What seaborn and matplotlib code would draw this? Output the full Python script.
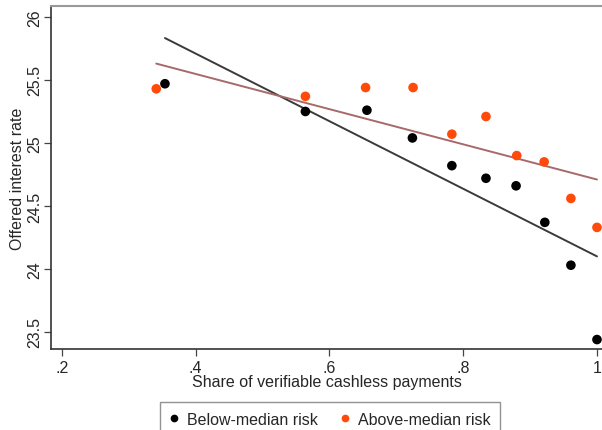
import numpy as np
import pandas as pd
import matplotlib
matplotlib.use("Agg")
import matplotlib.pyplot as plt
import seaborn as sns

# Binned means
below_x = [0.354, 0.564, 0.656, 0.724, 0.783, 0.834, 0.879, 0.922, 0.961, 1.0]
below_y = [25.47, 25.25, 25.26, 25.04, 24.82, 24.72, 24.66, 24.37, 24.03, 23.44]
above_x = [0.341, 0.564, 0.654, 0.725, 0.783, 0.834, 0.880, 0.921, 0.961, 1.0]
above_y = [25.43, 25.37, 25.44, 25.44, 25.07, 25.21, 24.90, 24.85, 24.56, 24.33]

# Linear fits (intercept, slope) as shown on the chart
below_fit = (26.782, -2.682)
above_fit = (26.106, -1.396)

groups = ["Below-median risk", "Above-median risk"]
x_ticks = [0.2, 0.4, 0.6, 0.8, 1.0]
x_tick_labels = [".2", ".4", ".6", ".8", "1"]
y_ticks = [23.5, 24, 24.5, 25, 25.5, 26]
y_tick_labels = ["23.5", "24", "24.5", "25", "25.5", "26"]

df = pd.DataFrame({
    "share": below_x + above_x,
    "rate": below_y + above_y,
    "group": [groups[0]] * len(below_x) + [groups[1]] * len(above_x),
})

fits = []
for g, xs, (a, b) in [(groups[0], below_x, below_fit), (groups[1], above_x, above_fit)]:
    xx = np.array([min(xs), max(xs)])
    fits.append(pd.DataFrame({"share": xx, "rate": a + b * xx, "group": g}))
fit_df = pd.concat(fits, ignore_index=True)

sns.set_style("white")
plt.rcParams["font.family"] = ["Liberation Sans", "DejaVu Sans"]

fig = plt.figure(figsize=(6.02, 4.31), dpi=100)
ax = fig.add_axes([51 / 602, 1 - 350 / 431, 552 / 602, 343 / 431])

sns.lineplot(data=fit_df, x="share", y="rate", hue="group",
             palette={groups[0]: "#3a3a3a", groups[1]: "#a8696b"},
             linewidth=1.4, legend=False, ax=ax, zorder=2)
sns.scatterplot(data=df, x="share", y="rate", hue="group",
                palette={groups[0]: "black", groups[1]: "#ff4a0a"},
                s=48, edgecolor="none", ax=ax, zorder=3)

ax.set_xlim(0.1836, 1.009)
ax.set_ylim(23.365, 26.087)
ax.set_xticks(x_ticks)
ax.set_xticklabels(x_tick_labels, fontsize=11.5)
ax.set_yticks(y_ticks)
ax.set_yticklabels(y_tick_labels, fontsize=11.5, rotation=90, va="center")
ax.tick_params(axis="both", direction="out", length=5, width=0.9,
               color="#444444", pad=3, bottom=True, left=True)
ax.tick_params(axis="y", pad=1)
ax.set_xlabel("Share of verifiable cashless payments", fontsize=11.5, labelpad=-1)
ax.set_ylabel("Offered interest rate", fontsize=11.5, labelpad=2)

for side in ["left", "bottom"]:
    ax.spines[side].set_color("#333333")
    ax.spines[side].set_linewidth(1.2)
ax.spines["top"].set_color("#999999")
ax.spines["top"].set_linewidth(1.5)
ax.spines["right"].set_visible(False)

leg = ax.legend(loc="upper center", bbox_to_anchor=(330 / 602, 1 - 403 / 431),
                bbox_transform=fig.transFigure, ncol=2, fontsize=11.5,
                frameon=True, fancybox=False, borderpad=0.6,
                handlelength=0.6, handletextpad=0.5, columnspacing=1.4,
                markerscale=0.8, borderaxespad=0, title=None)
leg.get_frame().set_edgecolor("#777777")
leg.get_frame().set_linewidth(1.0)

fig.savefig("out.png", dpi=100)
